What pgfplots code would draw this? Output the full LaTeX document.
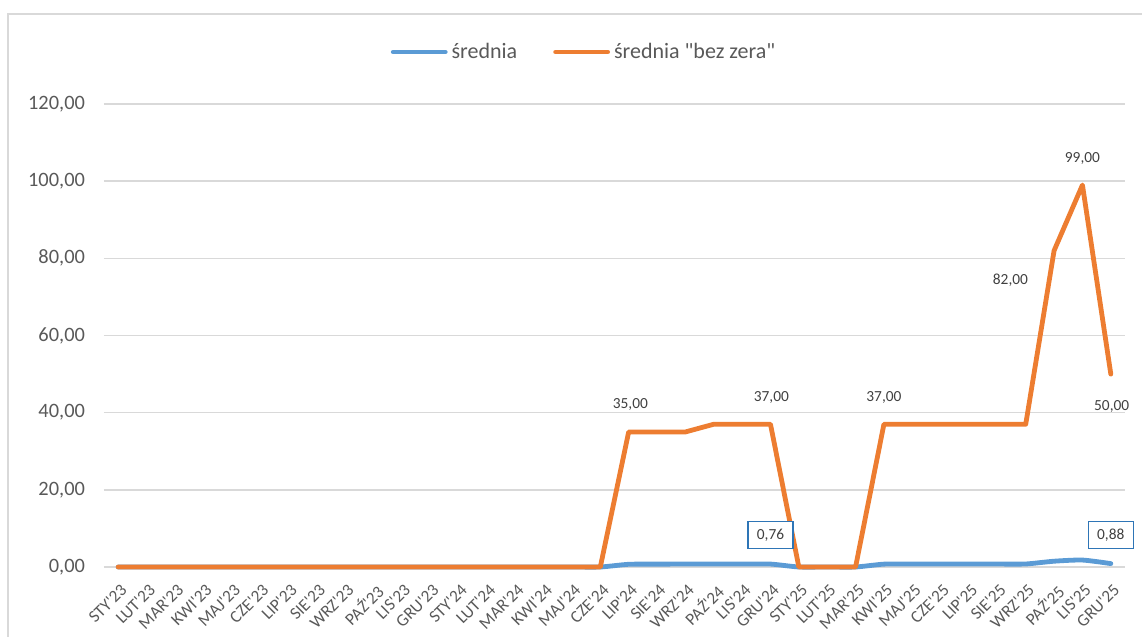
\documentclass[border=0pt]{standalone}
\usepackage{pgfplots}
\pgfplotsset{compat=1.18}
\usepackage{pgfplotstable}
\usepackage{fontspec}
\setmainfont{Carlito}
\definecolor{sblue}{RGB}{91,155,213}
\definecolor{sorange}{RGB}{237,125,49}
\definecolor{gridc}{RGB}{217,217,217}
\definecolor{txt}{RGB}{89,89,89}
\definecolor{lbl}{RGB}{64,64,64}
\definecolor{boxc}{RGB}{46,117,182}
\newcommand{\q}{\textquotesingle}
\pgfplotstableread{
x o b
0 0 0
1 0 0
2 0 0
3 0 0
4 0 0
5 0 0
6 0 0
7 0 0
8 0 0
9 0 0
10 0 0
11 0 0
12 0 0
13 0 0
14 0 0
15 0 0
16 0 0
17 0 0
18 35 0.70
19 35 0.74
20 35 0.76
21 37 0.76
22 37 0.76
23 37 0.76
24 0 0
25 0 0
26 0 0
27 37 0.74
28 37 0.76
29 37 0.76
30 37 0.76
31 37 0.76
32 37 0.78
33 82 1.50
34 99 1.80
35 50 0.88
}\datatab
\begin{document}
\begin{tikzpicture}
\path[use as bounding box] (-52pt,-35pt) rectangle (519pt,283.5pt);
\draw[gridc, line width=0.75pt] (-48pt,-36pt) -- (-48pt,276.5pt) -- (520pt,276.5pt);
\begin{axis}[
  at={(0pt,0pt)}, anchor=south west,
  scale only axis, width=510.5pt, height=231.5pt,
  xmin=-0.5, xmax=35.5, ymin=0, ymax=120,
  clip=false,
  axis line style={draw=none},
  tick style={draw=none},
  ymajorgrids, major grid style={gridc, line width=0.75pt},
  ytick={0,20,...,120},
  yticklabel={\pgfmathprintnumber[fixed, fixed zerofill, precision=2, use comma]{\tick}},
  /pgf/number format/assume math mode=true,
  yticklabel style={font=\fontsize{10.2pt}{12pt}\selectfont, text=txt, xshift=-6pt},
  xtick={0,...,35},
  xticklabels={STY\q23,LUT\q23,MAR\q23,KWI\q23,MAJ\q23,CZE\q23,LIP\q23,SIE\q23,WRZ\q23,PAŹ\q23,LIS\q23,GRU\q23,
               STY\q24,LUT\q24,MAR\q24,KWI\q24,MAJ\q24,CZE\q24,LIP\q24,SIE\q24,WRZ\q24,PAŹ\q24,LIS\q24,GRU\q24,
               STY\q25,LUT\q25,MAR\q25,KWI\q25,MAJ\q25,CZE\q25,LIP\q25,SIE\q25,WRZ\q25,PAŹ\q25,LIS\q25,GRU\q25},
  xticklabel style={font=\fontsize{8.6pt}{10pt}\selectfont, text=txt, rotate=45, anchor=north east, inner sep=1pt, xshift=-4pt, yshift=-5pt},
  major tick length=0pt,
  legend columns=2,
  legend style={at={(0.4711,1.1123)}, anchor=center, draw=none, fill=none,
    font=\fontsize{11pt}{13pt}\selectfont, text=txt,
    /tikz/every even column/.append style={column sep=16pt}},
  legend image code/.code={\draw[#1, line cap=round] (0pt,0pt) -- (26pt,0pt);},
]
\addplot[sblue, line width=2.4pt, smooth, tension=0.4, line cap=round, line join=round] table[x=x, y=b] {\datatab};
\addlegendentry{średnia}
\addplot[sorange, line width=2.4pt, line cap=round, line join=round] table[x=x, y=o] {\datatab};
\addlegendentry{średnia \textquotedbl bez zera\textquotedbl}
\begin{scope}[every node/.style={font=\fontsize{7.7pt}{9pt}\selectfont, text=lbl}]
\node at (axis cs:18.06,42) {35,00};
\node at (axis cs:23.03,44) {37,00};
\node at (axis cs:27.0,44) {37,00};
\node at (axis cs:31.46,74.35) {82,00};
\node at (axis cs:34.0,106) {99,00};
\node at (axis cs:35.03,41.5) {50,00};
\node[draw=boxc, line width=0.6pt, fill=white, minimum width=22.5pt, minimum height=13.5pt, inner sep=1pt] at (axis cs:23.0,8.2) {0,76};
\node[draw=boxc, line width=0.6pt, fill=white, minimum width=22.5pt, minimum height=13.5pt, inner sep=1pt] at (axis cs:35.0,8.2) {0,88};
\end{scope}
\end{axis}
\end{tikzpicture}
\end{document}
